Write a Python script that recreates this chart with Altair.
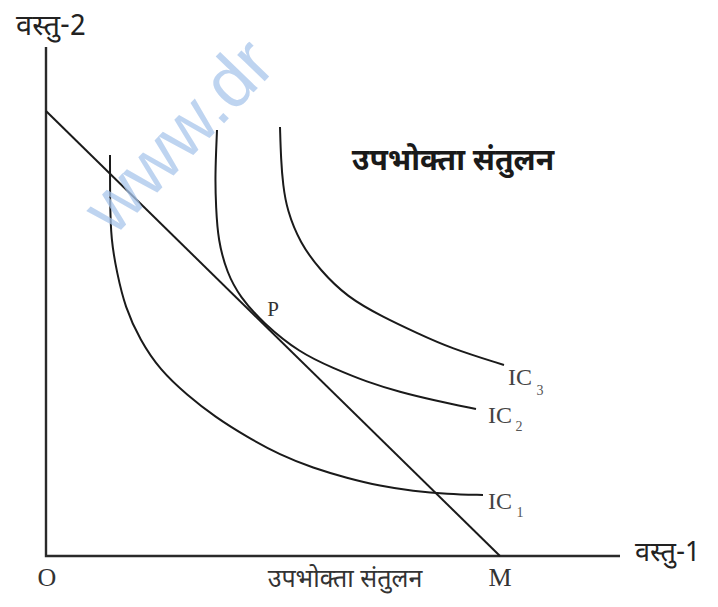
import altair as alt
import pandas as pd

# Indifference curves (good-1 quantity, good-2 quantity)
ic1_x = [6.4, 6.4, 6.5, 7.1, 7.9, 9.4, 11.4, 14.1, 16.9, 20.1, 23.4, 26.7, 30.1, 33.4, 36.7, 40.1, 43.7]
ic1_y = [40.1, 35.6, 31.6, 28.3, 24.9, 21.6, 18.6, 16.1, 13.9, 11.9, 10.1, 8.8, 7.8, 7.0, 6.5, 6.2, 6.1]

ic2_x = [17.1, 16.9, 17.0, 17.2, 18.1, 19.4, 21.7, 25.4, 28.7, 32.1, 35.4, 38.7, 43.0]
ic2_y = [42.6, 37.9, 34.9, 31.6, 28.3, 25.9, 23.3, 20.3, 18.8, 17.4, 16.4, 15.6, 14.7]

ic3_x = [23.4, 23.5, 23.7, 24.1, 25.4, 27.4, 30.1, 33.7, 37.1, 40.4, 45.8]
ic3_y = [42.9, 39.6, 37.1, 34.6, 31.3, 28.6, 25.9, 23.9, 22.3, 20.8, 19.1]

# Budget line (price line) ending at M
budget_x = [0.0, 45.4]
budget_y = [44.5, 0.0]

# Axes
axis_x = [0.0, 0.0, 57.4]
axis_y = [50.9, 0.0, 0.0]

# Text labels
title_text = "उपभोक्ता संतुलन"
y_label = "वस्तु-2"
x_label = "वस्तु-1"

rows = []
for name, xs, ys in [("IC1", ic1_x, ic1_y), ("IC2", ic2_x, ic2_y), ("IC3", ic3_x, ic3_y)]:
    for i, (a, b) in enumerate(zip(xs, ys)):
        rows.append({"s": name, "o": i, "x": a, "y": b})
curves = pd.DataFrame(rows)
budget = pd.DataFrame({"s": "B", "o": [0, 1], "x": budget_x, "y": budget_y})
axes = pd.DataFrame({"s": "A", "o": [0, 1, 2], "x": axis_x, "y": axis_y})

X = alt.X("x:Q", scale=alt.Scale(domain=[-3.8, 66.2], nice=False, zero=False), axis=None)
Y = alt.Y("y:Q", scale=alt.Scale(domain=[-4.2, 54.8], nice=False, zero=False), axis=None)

base_enc = dict(x=X, y=Y, order="o:Q", detail="s:N")

curve_layer = alt.Chart(curves).mark_line(
    interpolate="basis", color="#1a1a1a", strokeWidth=2
).encode(**base_enc)
budget_layer = alt.Chart(budget).mark_line(color="#1a1a1a", strokeWidth=2).encode(**base_enc)
axes_layer = alt.Chart(axes).mark_line(color="#2a2a2a", strokeWidth=2.4).encode(**base_enc)

deva = "Noto Sans Devanagari, Noto Sans, Lohit Devanagari, sans-serif"

def txt(df, **kw):
    return alt.Chart(pd.DataFrame(df)).mark_text(**kw).encode(
        x=X, y=Y, text="t:N"
    )

top_title = txt({"t": [title_text], "x": [40.7], "y": [39.5]},
                font=deva, fontSize=30, fontWeight="bold", color="#1a1a1a")
bottom_title = txt({"t": [title_text], "x": [29.9], "y": [-2.3]},
                   font=deva, fontSize=25, color="#333333")
ylab = txt({"t": [y_label], "x": [0.5], "y": [53.0]},
           font=deva, fontSize=29, color="#222222")
xlab = txt({"t": [x_label], "x": [58.9], "y": [0.3]},
           font=deva, fontSize=27, color="#222222", align="left")
om = txt({"t": ["O", "M"], "x": [0.1, 45.4], "y": [-2.2, -2.2]},
         font="Liberation Serif", fontSize=26, color="#333333")
p = txt({"t": ["P"], "x": [22.7], "y": [24.6]},
        font="Liberation Serif", fontSize=21, color="#333333")
ic = txt({"t": ["IC", "IC", "IC"], "x": [44.2, 44.2, 46.2], "y": [5.4, 14.0, 17.8]},
         font="Liberation Serif", fontSize=24, color="#444444", align="left")
subs = txt({"t": ["1", "2", "3"], "x": [47.4, 47.3, 49.4], "y": [4.3, 12.9, 16.5]},
           font="Liberation Serif", fontSize=14, color="#555555")
wm = txt({"t": ["www.dr"], "x": [5.2], "y": [33.4]},
         font="Liberation Sans", fontSize=72, color="#a9c6ec", opacity=0.75,
         angle=314, align="left", baseline="middle")

chart = alt.layer(
    axes_layer, budget_layer, curve_layer,
    top_title, bottom_title, ylab, xlab, om, p, ic, subs, wm
).properties(
    width=700, height=590,
    autosize=alt.AutoSizeParams(type="none"),
    padding=0,
    background="white",
).configure_view(stroke=None)

chart.save("out.html", embed_options={"renderer": "svg", "actions": False})
